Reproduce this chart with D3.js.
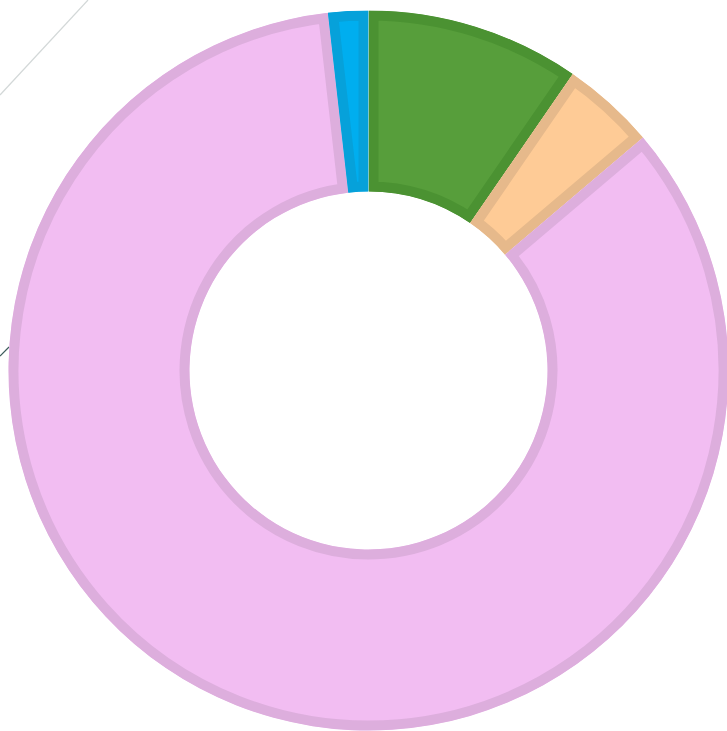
<!DOCTYPE html>
<html>
<head>
<meta charset="utf-8">
<script src="https://cdn.jsdelivr.net/npm/d3@7"></script>
<style>
  html, body { margin: 0; padding: 0; background: #fff; overflow: hidden; }
</style>
</head>
<body>
<svg id="chart" width="727" height="731"></svg>
<script>
// slice data, clockwise from 12 o'clock
var categories = ["Green", "Orange", "Pink", "Blue"];
var values = [9.6, 4.2, 84.4, 1.8];
var fills = ["#579e3b", "#fecb96", "#f2bdf2", "#00aeef"];
var strokes = ["#4b9232", "#e6b98b", "#ddaedd", "#06a1da"];

// stray leader lines from labels outside the view
var leaders = [
    { x1: 0, y1: 95, x2: 88, y2: 0, color: "#d3d8d8" },
    { x1: 0, y1: 356, x2: 9, y2: 347, color: "#3d5c5c" }
];

var svg = d3.select("#chart"),
    cx = 368.5,
    cy = 370.5,
    outerR = 360,
    innerR = 179,
    edge = 10;

var pie = d3.pie().sort(null).value(function(d) { return d.value; });
var arc = d3.arc().innerRadius(innerR).outerRadius(outerR);

var data = categories.map(function(c, i) {
    return { name: c, value: values[i], fill: fills[i], stroke: strokes[i] };
});
var arcs = pie(data);

// clip each slice to itself so the border sits inside it
var defs = svg.append("defs");
defs.selectAll("clipPath")
    .data(arcs)
    .enter().append("clipPath")
    .attr("id", function(_, i) { return "clip" + i; })
    .append("path")
    .attr("d", arc);

svg.selectAll(".leader")
    .data(leaders)
    .enter().append("line")
    .attr("class", "leader")
    .attr("x1", function(d) { return d.x1; })
    .attr("y1", function(d) { return d.y1; })
    .attr("x2", function(d) { return d.x2; })
    .attr("y2", function(d) { return d.y2; })
    .attr("stroke", function(d) { return d.color; })
    .attr("stroke-width", 1.2);

var g = svg.append("g")
    .attr("transform", "translate(" + cx + "," + cy + ")");

g.selectAll(".slice")
    .data(arcs)
    .enter().append("path")
    .attr("class", "slice")
    .attr("clip-path", function(_, i) { return "url(#clip" + i + ")"; })
    .attr("d", arc)
    .attr("fill", function(d) { return d.data.fill; })
    .attr("stroke", function(d) { return d.data.stroke; })
    .attr("stroke-width", edge * 2)
    .attr("stroke-linejoin", "miter");
</script>
</body>
</html>
